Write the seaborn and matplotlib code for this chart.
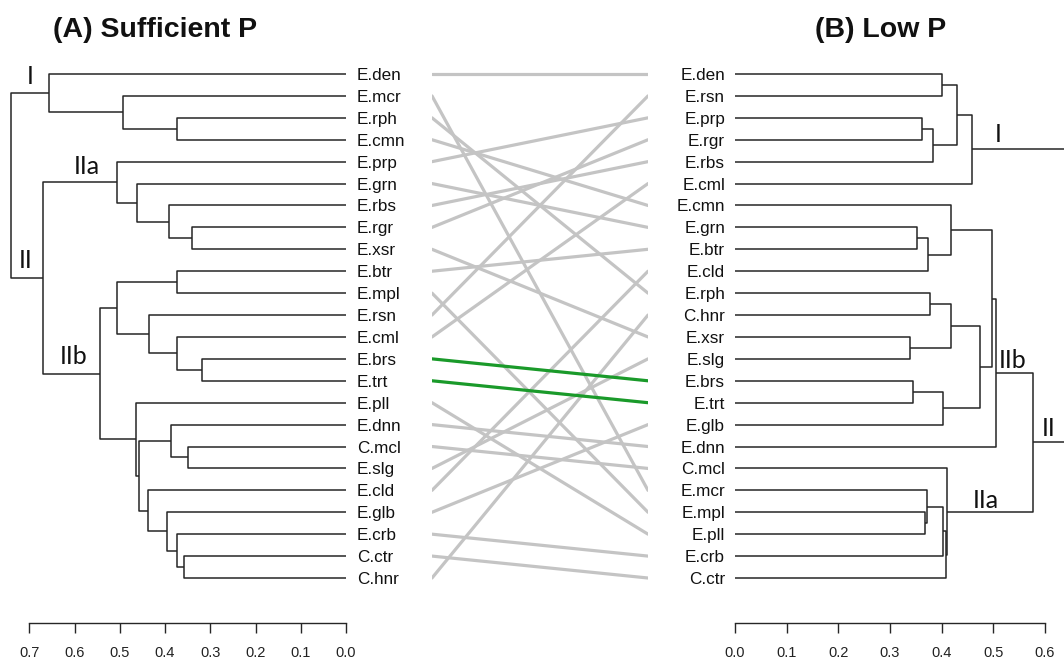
import matplotlib
matplotlib.use("Agg")
import matplotlib.pyplot as plt
import seaborn as sns
import pandas as pd

# ---------------- data ----------------
left_leaves = ["E.den", "E.mcr", "E.rph", "E.cmn", "E.prp", "E.grn", "E.rbs", "E.rgr",
               "E.xsr", "E.btr", "E.mpl", "E.rsn", "E.cml", "E.brs", "E.trt", "E.pll",
               "E.dnn", "C.mcl", "E.slg", "E.cld", "E.glb", "E.crb", "C.ctr", "C.hnr"]
# merges: a, b (leaf name or 1-based merge id), height
left_a = ["E.rph", "E.mcr", "E.den", "E.rgr", "E.rbs", "E.grn", "E.prp", "E.btr", "E.brs",
          "E.cml", "E.rsn", 8, "C.mcl", "E.dnn", "C.ctr", "E.crb", "E.glb", "E.cld", 14,
          "E.pll", 12, 7, 3]
left_b = ["E.cmn", 1, 2, "E.xsr", 4, 5, 6, "E.mpl", "E.trt", 9, 10, 11, "E.slg", 13,
          "C.hnr", 15, 16, 17, 18, 19, 20, 21, 22]
left_h = [0.374, 0.492, 0.656, 0.341, 0.392, 0.461, 0.507, 0.374, 0.319, 0.374, 0.436,
          0.507, 0.350, 0.386, 0.358, 0.373, 0.396, 0.438, 0.458, 0.465, 0.543, 0.669, 0.740]

right_leaves = ["E.den", "E.rsn", "E.prp", "E.rgr", "E.rbs", "E.cml", "E.cmn", "E.grn",
                "E.btr", "E.cld", "E.rph", "C.hnr", "E.xsr", "E.slg", "E.brs", "E.trt",
                "E.glb", "E.dnn", "C.mcl", "E.mcr", "E.mpl", "E.pll", "E.crb", "C.ctr"]
right_a = ["E.prp", 1, "E.den", 3, 4, "E.grn", 6, "E.cmn", "E.rph", "E.xsr", 9, "E.brs", 12,
           11, 8, 15, "E.mpl", "E.mcr", 18, 19, "C.mcl", 16, 5]
right_b = ["E.rgr", "E.rbs", "E.rsn", 2, "E.cml", "E.btr", "E.cld", 7, "C.hnr", "E.slg", 10,
           "E.trt", "E.glb", 13, 14, "E.dnn", "E.pll", 17, "E.crb", "C.ctr", 20, 21, 22]
right_h = [0.361, 0.384, 0.400, 0.430, 0.459, 0.352, 0.374, 0.419, 0.377, 0.339, 0.419,
           0.345, 0.402, 0.474, 0.497, 0.505, 0.368, 0.372, 0.402, 0.408, 0.410, 0.576, 0.680]

highlight = ["E.brs", "E.trt"]

left_ticks = [0.0, 0.1, 0.2, 0.3, 0.4, 0.5, 0.6, 0.7]
right_ticks = [0.0, 0.1, 0.2, 0.3, 0.4, 0.5, 0.6]

title_left = "(A) Sufficient P"
title_right = "(B) Low P"
left_cluster_labels = [("I", 30, 77), ("IIa", 87, 167), ("II", 26, 260), ("IIb", 74, 357)]
right_cluster_labels = [("I", 998, 134), ("IIb", 1013, 360), ("II", 1049, 428), ("IIa", 986, 500)]

# ---------------- helpers ----------------
W, H = 1064, 661


def fx(px):
    return px / W


def fy(py):
    return 1 - py / H


def dendro_segments(leaves, a_list, b_list, h_list):
    pos = {n: i for i, n in enumerate(leaves)}
    ny, nh, segs = [], [], []

    def get(ref):
        if isinstance(ref, str):
            return pos[ref], 0.0
        return ny[ref - 1], nh[ref - 1]

    for a, b, h in zip(a_list, b_list, h_list):
        ya, ha = get(a)
        yb, hb = get(b)
        segs.append(([ha, h, h, hb], [ya, ya, yb, yb]))
        ny.append((ya + yb) / 2)
        nh.append(h)
    return segs


sns.set_theme(style="white")
plt.rcParams["font.family"] = ["Liberation Sans", "DejaVu Sans"]

fig = plt.figure(figsize=(W / 100, H / 100), dpi=100)

top_px, bot_px = 50, 623
leaf0, step = 74, 21.913
ylim = ((bot_px - leaf0) / step, (top_px - leaf0) / step)
ax_bottom = fy(bot_px)
ax_height = (bot_px - top_px) / H

line_col = "#262626"
lw = 1.1


def style_axis(ax, ticks, bound):
    ax.set_xticks(ticks)
    ax.set_xticklabels([f"{t:.1f}" for t in ticks])
    ax.tick_params(axis="x", bottom=True, length=7.2, width=1.0, color=line_col,
                   direction="out", pad=9.5, labelsize=10.5, labelcolor="#222222")
    for s in ["top", "left", "right"]:
        ax.spines[s].set_visible(False)
    ax.spines["bottom"].set_bounds(0, bound)
    ax.spines["bottom"].set_color(line_col)
    ax.spines["bottom"].set_linewidth(1.0)
    ax.set_facecolor("none")


# left dendrogram
axL = fig.add_axes([0, ax_bottom, fx(346), ax_height])
for xs, ys in dendro_segments(left_leaves, left_a, left_b, left_h):
    axL.plot(xs, ys, color=line_col, lw=lw, solid_capstyle="butt")
axL.set_xlim(346 / 452.4, 0)
axL.set_ylim(*ylim)
axL.yaxis.tick_right()
axL.set_yticks(range(len(left_leaves)))
axL.set_yticklabels(left_leaves)
axL.tick_params(axis="y", length=0, pad=7.9, labelsize=12.3, labelcolor="#111111",
                left=False, right=False)
style_axis(axL, left_ticks, 0.7)

# right dendrogram
axR = fig.add_axes([fx(735), ax_bottom, fx(W - 735), ax_height])
for xs, ys in dendro_segments(right_leaves, right_a, right_b, right_h):
    axR.plot(xs, ys, color=line_col, lw=lw, solid_capstyle="butt")
axR.set_xlim(0, (W - 735) / 516.7)
axR.set_ylim(*ylim)
axR.set_yticks(range(len(right_leaves)))
axR.set_yticklabels(right_leaves)
axR.tick_params(axis="y", length=0, pad=7.2, labelsize=12.3, labelcolor="#111111",
                left=False, right=False)
style_axis(axR, right_ticks, 0.6)

# tangle lines
axM = fig.add_axes([fx(432), ax_bottom, fx(648 - 432), ax_height])
rpos = {n: i for i, n in enumerate(right_leaves)}
rows = []
for i, n in enumerate(left_leaves):
    grp = "same" if n in highlight else "other"
    rows.append({"x": 0, "y": i, "name": n, "group": grp})
    rows.append({"x": 1, "y": rpos[n], "name": n, "group": grp})
df = pd.DataFrame(rows)
sns.lineplot(data=df, x="x", y="y", units="name", estimator=None, sort=False,
             hue="group", hue_order=["other", "same"],
             palette={"other": "#c4c4c4", "same": "#1a9a2a"},
             lw=2.3, legend=False, ax=axM)
axM.set_xlim(0, 1)
axM.set_ylim(*ylim)
axM.axis("off")

# titles
fig.text(fx(53), fy(37), title_left, fontsize=20.5, fontweight="bold", ha="left",
         va="baseline", color="#111111")
fig.text(fx(815), fy(37), title_right, fontsize=20.5, fontweight="bold", ha="left",
         va="baseline", color="#111111")

for txt, x, y in left_cluster_labels + right_cluster_labels:
    fig.text(fx(x), fy(y), txt, fontsize=18, family=["Lato", "DejaVu Sans"],
             ha="center", va="center", color="#111111")

fig.savefig("out.png", dpi=100)
